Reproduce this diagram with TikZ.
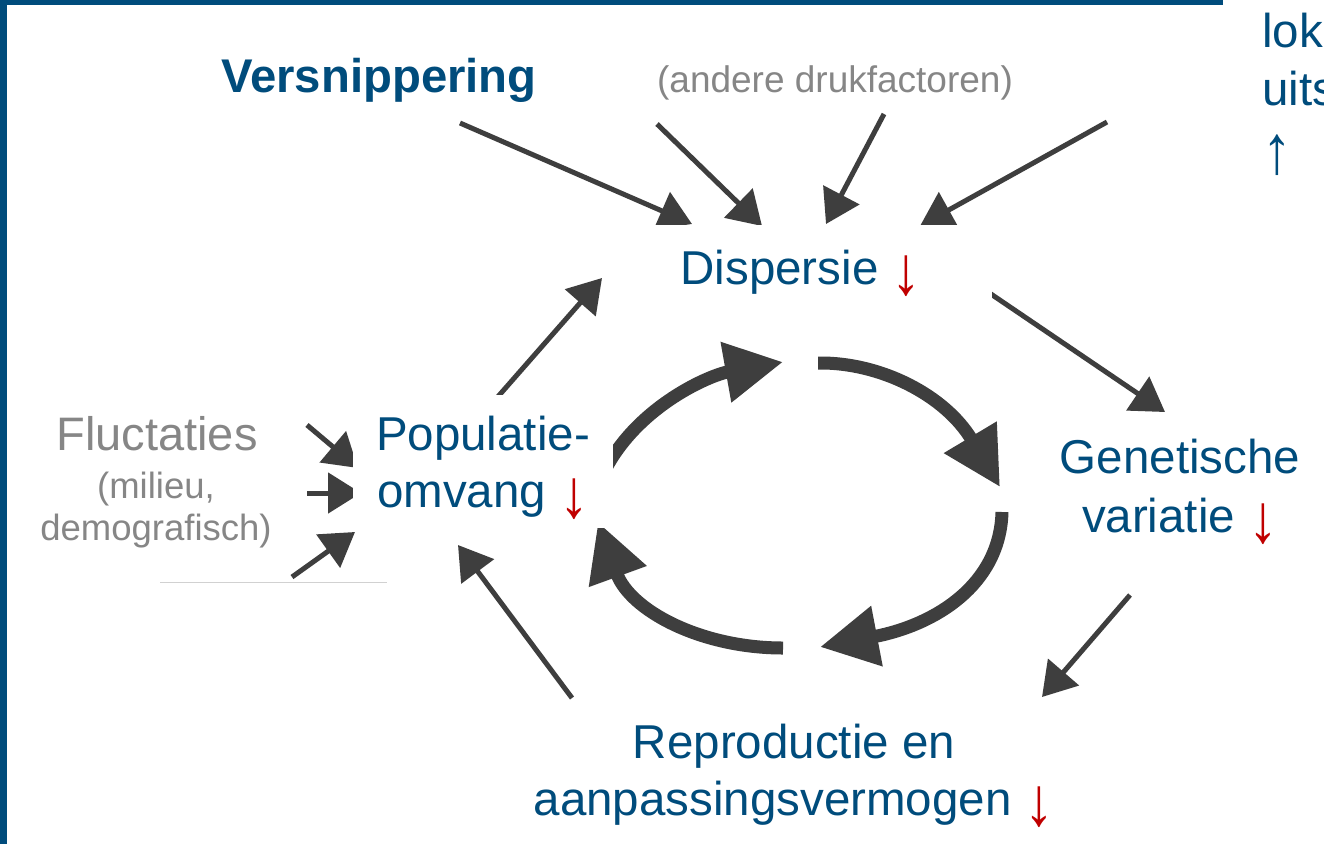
\documentclass[tikz,border=0pt]{standalone}
\usepackage{fontspec}
\setmainfont{Liberation Sans}
\usetikzlibrary{arrows.meta}
\definecolor{dblue}{RGB}{0,76,124}
\definecolor{dred}{RGB}{192,0,0}
\definecolor{tgray}{RGB}{134,134,134}
\definecolor{arw}{RGB}{62,62,62}
\definecolor{framec}{RGB}{0,76,124}
\newcommand{\bigarr}[1]{\raisebox{-10pt}{\scalebox{1.25}[1.45]{#1}}}
\newcommand{\dn}{{\color{dred}\bigarr{↓}}}
\begin{document}
\begin{tikzpicture}[x=1pt,y=-1pt,
  thinarrow/.style={draw=arw, line width=5pt, -{Triangle[length=33pt,width=40pt]}},
  thickarrow/.style={draw=arw, line width=13pt, -{Triangle[length=58pt,width=58pt]}},
  lbl/.style={inner sep=0pt, anchor=base, text=dblue, font=\fontsize{47.5}{56}\selectfont},
  glbl/.style={inner sep=0pt, anchor=base, text=tgray, font=\fontsize{47}{56}\selectfont},
  slbl/.style={inner sep=0pt, anchor=base, text=tgray, font=\fontsize{36.5}{44}\selectfont},
  cover/.style={fill=white}]
\useasboundingbox (0,0) rectangle (1324,844);
\clip (0,0) rectangle (1324,844);
\fill[white] (0,0) rectangle (1324,844);
% frame
\fill[framec] (0,0) rectangle (7,844);
\fill[framec] (0,0) rectangle (1223,5);
% faint line
\draw[black!18, line width=1pt] (160,582) -- (387,582);

% arrow endpoints
\coordinate (a1s) at (460,123); \coordinate (a1e) at (692,224);
\coordinate (a2s) at (657,124); \coordinate (a2e) at (762,226);
\coordinate (a3s) at (884,114); \coordinate (a3e) at (826,224);
\coordinate (a4s) at (1107,122); \coordinate (a4e) at (920,226);
\coordinate (pds) at (495,400); \coordinate (pde) at (602,278);
\coordinate (dgs) at (985,290); \coordinate (dge) at (1165,412);
\coordinate (grs) at (1130,595); \coordinate (gre) at (1042,697);
\coordinate (rps) at (572,698); \coordinate (rpe) at (458,545);
\coordinate (f1s) at (307,425); \coordinate (f1e) at (358,468);
\coordinate (f2s) at (307,493); \coordinate (f2e) at (361,493);
\coordinate (f3s) at (292,577); \coordinate (f3e) at (355,532);
\coordinate (c1s) at (606,468); \coordinate (c1e) at (783,362);
\coordinate (c2s) at (818,363); \coordinate (c2e) at (1000,487);
\coordinate (c3s) at (1002,512); \coordinate (c3e) at (820,647);
\coordinate (c4s) at (783,648); \coordinate (c4e) at (598,522);

% thin arrows
\foreach \s/\e in {a1s/a1e,a2s/a2e,a3s/a3e,a4s/a4e,pds/pde,dgs/dge,grs/gre,rps/rpe,f1s/f1e,f2s/f2e,f3s/f3e}
  \draw[thinarrow] (\s) -- (\e);

% cycle arrows
\draw[thickarrow] (c1s) .. controls (640,405) and (710,375) .. (c1e);
\draw[thickarrow] (c2s) .. controls (880,362) and (945,395) .. (c2e);
\draw[thickarrow] (c3s) .. controls (1000,585) and (935,625) .. (c3e);
\draw[thickarrow] (c4s) .. controls (700,648) and (630,610) .. (c4e);

% white text boxes
\fill[cover] (610,225) rectangle (992,337);
\fill[cover] (353,395) rectangle (613,528);
\fill[cover] (1020,417) rectangle (1324,580);

% texts
\node[lbl, font=\fontsize{47.3}{56}\selectfont\bfseries] (vers) at (379,92) {Versnippering};
\node[slbl, font=\fontsize{37}{44}\selectfont] (andere) at (835,92) {(andere drukfactoren)};
\node[lbl] (disp) at (801,284) {Dispersie \dn};
\node[lbl] (pop1) at (483,450) {Populatie-};
\node[lbl] (pop2) at (483,507) {omvang \dn};
\node[lbl] (gen1) at (1180,473) {Genetische};
\node[lbl] (gen2) at (1180,532) {variatie \dn};
\node[lbl] (rep1) at (794,758) {Reproductie en};
\node[lbl] (rep2) at (794,815) {aanpassingsvermogen \dn};
\node[glbl] (fl1) at (157,450) {Fluctaties};
\node[slbl] (fl2) at (156,498) {(milieu,};
\node[slbl] (fl3) at (156,540) {demografisch)};
\node[lbl, anchor=base west] (lok) at (1262,47) {lok};
\node[lbl, anchor=base west] (uits) at (1262,105) {uits};
\node[lbl, anchor=base west] (up) at (1262,163) {\bigarr{↑}};
\end{tikzpicture}
\end{document}
